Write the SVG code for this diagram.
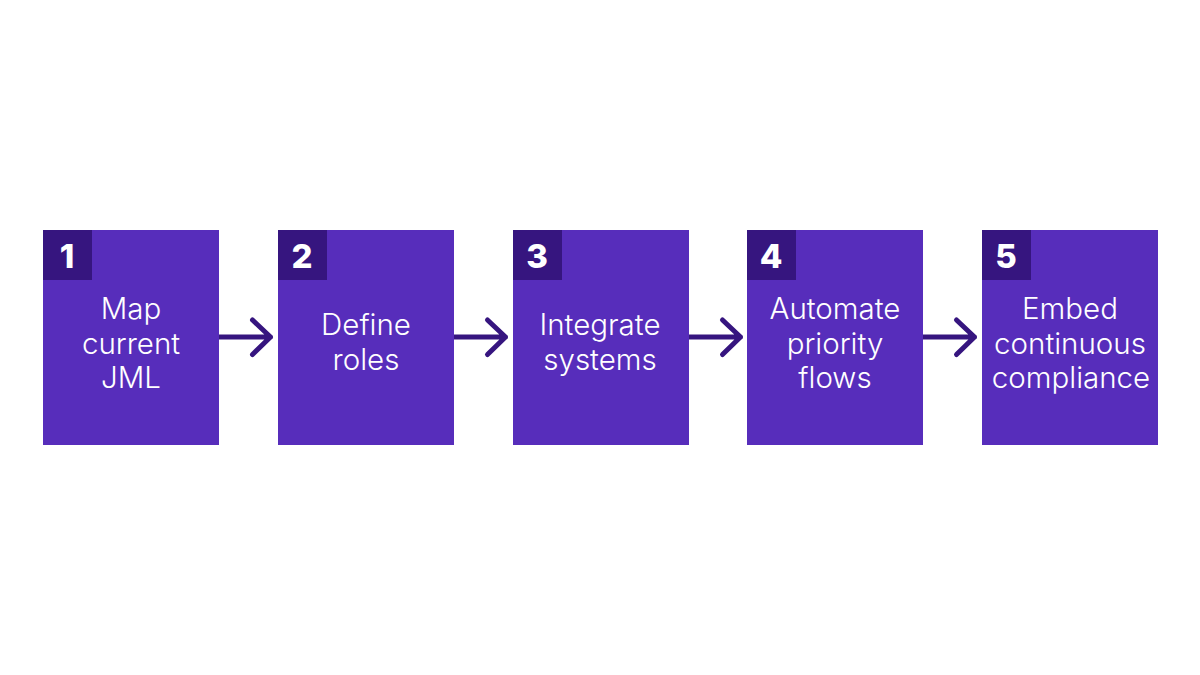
<svg xmlns="http://www.w3.org/2000/svg" width="1200" height="675" viewBox="0 0 1200 675">
<style>
.box{fill:#572dbb}.badge{fill:#36157f}
.num{font-family:Inter,"Liberation Sans",sans-serif;font-weight:800;font-size:33px;fill:#fff;text-anchor:middle}
.lbl{font-family:Inter,"Liberation Sans",sans-serif;font-weight:350;font-size:29.5px;fill:#fff;text-anchor:middle}
.c{fill:none;stroke:#36157f;stroke-width:5;stroke-linecap:round;stroke-linejoin:round}
</style>
<rect width="1200" height="675" fill="#fff"/>
<g id="connectors">
<path class="c" d="M219 337H270.500M252.500 320L270.500 337L252.500 354.500"/>
<path class="c" d="M454 337H505.500M487.500 320L505.500 337L487.500 354.500"/>
<path class="c" d="M689 337H740.500M722.500 320L740.500 337L722.500 354.500"/>
<path class="c" d="M923 337H974.500M956.500 320L974.500 337L956.500 354.500"/>
</g>
<g id="node1"><rect class="box" x="43" y="230" width="176" height="215"/><rect class="badge" x="43" y="230" width="49" height="50"/><text class="num" x="67" y="268">1</text><text class="lbl" x="131" y="319">Map</text><text class="lbl" x="131" y="354">current</text><text class="lbl" x="131" y="388">JML</text></g>
<g id="node2"><rect class="box" x="278" y="230" width="176" height="215"/><rect class="badge" x="278" y="230" width="49" height="50"/><text class="num" x="302" y="268">2</text><text class="lbl" x="366" y="335">Define</text><text class="lbl" x="366" y="370">roles</text></g>
<g id="node3"><rect class="box" x="513" y="230" width="176" height="215"/><rect class="badge" x="513" y="230" width="49" height="50"/><text class="num" x="537" y="268">3</text><text class="lbl" x="600" y="335">Integrate</text><text class="lbl" x="600" y="370">systems</text></g>
<g id="node4"><rect class="box" x="747" y="230" width="176" height="215"/><rect class="badge" x="747" y="230" width="49" height="50"/><text class="num" x="771" y="268">4</text><text class="lbl" x="835" y="319">Automate</text><text class="lbl" x="835" y="354">priority</text><text class="lbl" x="835" y="388">flows</text></g>
<g id="node5"><rect class="box" x="982" y="230" width="176" height="215"/><rect class="badge" x="982" y="230" width="49" height="50"/><text class="num" x="1006" y="268">5</text><text class="lbl" x="1070" y="319">Embed</text><text class="lbl" x="1070" y="354">continuous</text><text class="lbl" x="1071" y="388">compliance</text></g>
</svg>
